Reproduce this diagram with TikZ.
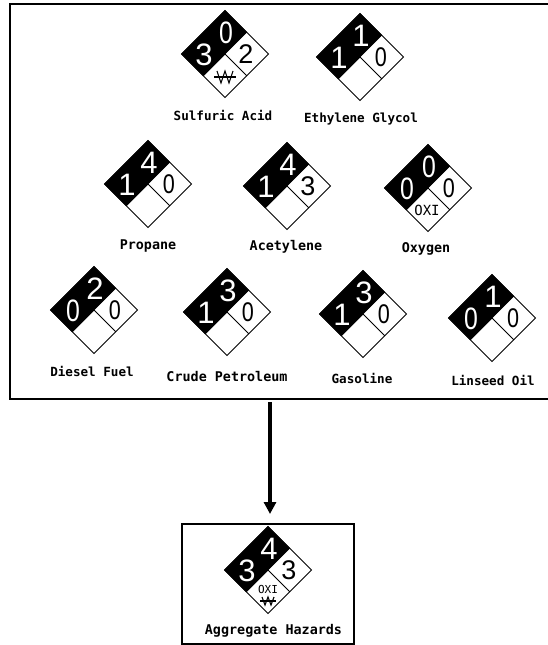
\documentclass[tikz,border=0pt]{standalone}
\usepackage{fontspec}
\usepackage{graphicx}
\usetikzlibrary{arrows.meta}
\setmainfont{Liberation Sans}
\newfontfamily\labelfont[Scale=1]{DejaVu Sans Mono Bold}
\newfontfamily\oxifont{DejaVu Sans Mono}
\tikzset{
  x=1pt,y=-1pt,
  sheet/.style={draw=black,line width=1.2pt,fill=white,rectangle,inner sep=0pt,outer sep=0pt},
  facecut/.style={draw=black,line width=0.8pt,line join=miter},
  blackface/.style={fill=black,draw=black,line width=0.6pt},
  darkdigit/.style={text=white,inner sep=0pt,font=\fontsize{31}{31}\selectfont},
  lightdigit/.style={text=black,inner sep=0pt,font=\fontsize{27}{27}\selectfont},
  hazlabel/.style={text=black,inner sep=0pt,font=\labelfont\fontsize{12.6}{13}\selectfont},
  hazwide/.style={text=black,inner sep=0pt,font=\labelfont\fontsize{13.4}{14}\selectfont},
  oxibig/.style={inner sep=0pt,font=\oxifont\fontsize{14}{14}\selectfont},
  oxismall/.style={inner sep=0pt,font=\oxifont\fontsize{11}{11}\selectfont},
  wline/.style={draw=black,line width=1.1pt,line join=miter},
  bigarrow/.style={draw=black,line width=4pt,-{Triangle[length=12pt,width=12pt]}}
}
\newcommand{\nar}[1]{\scalebox{.8}[1]{#1}}
% id, cx, cy, left digit, top digit, right digit
\newcommand{\hazard}[6]{%
  \fill[white] (#2-43.5,#3) -- (#2,#3-43.5) -- (#2+43.5,#3) -- (#2,#3+43.5) -- cycle;
  \path[blackface] (#2-43.5,#3) -- (#2,#3-43.5) -- (#2+21.75,#3-21.75) -- (#2,#3) -- (#2-21.75,#3+21.75) -- cycle;
  \draw[facecut] (#2-43.5,#3) -- (#2,#3-43.5) -- (#2+43.5,#3) -- (#2,#3+43.5) -- cycle;
  \draw[facecut] (#2,#3) -- (#2+21.75,#3+21.75);
  \draw[facecut] (#2,#3) -- (#2-21.75,#3+21.75);
  \node[darkdigit] (#1L) at (#2-21,#3+1) {#4};
  \node[darkdigit] (#1T) at (#2+1,#3-21) {#5};
  \node[lightdigit] (#1R) at (#2+21,#3) {#6};
}
% cx, cy, half width of bar, half width of W, half height
\newcommand{\nowater}[5]{%
  \draw[wline] (#1-#3,#2) -- (#1+#3,#2);
  \draw[wline] (#1-#4,#2-#5) -- (#1-#4/2,#2+#5) -- (#1,#2-#5) -- (#1+#4/2,#2+#5) -- (#1+#4,#2-#5);
}
\begin{document}
\begin{tikzpicture}
\useasboundingbox (0,0) rectangle (548,645);
\fill[white] (0,0) rectangle (548,645);
\node[sheet,minimum width=550pt,minimum height=395pt] (frame) at (285,201.5) {};
\node[sheet,minimum width=172pt,minimum height=120pt] (boxn) at (268,584) {};
\coordinate (arrowx) at (270,0);
\draw[bigarrow,shorten <=3pt,shorten >=10pt] (arrowx |- frame.south) -- (arrowx |- boxn.north);

\hazard{sa}{225}{54}{3}{\nar{0}}{2}
\nowater{225}{77}{11}{8}{6}
\node[hazlabel] (salabel) at (223,115) {Sulfuric Acid};

\hazard{eg}{360}{57}{1}{1}{\nar{0}}
\node[hazlabel] (eglabel) at (361,119) {Ethylene Glycol};

\hazard{pr}{148}{184}{1}{4}{\nar{0}}
\node[hazwide] (prlabel) at (148,246) {Propane};

\hazard{ac}{287}{186}{1}{4}{3}
\node[hazwide] (aclabel) at (286,247) {Acetylene};

\hazard{ox}{428}{188}{\nar{0}}{\nar{0}}{\nar{0}}
\node[oxibig] (oxi) at (427,210) {OXI};
\node[hazwide] (oxlabel) at (426,249) {Oxygen};

\hazard{df}{94}{310}{\nar{0}}{2}{\nar{0}}
\node[hazlabel] (dflabel) at (92,371) {Diesel Fuel};

\hazard{cp}{227}{312}{1}{3}{\nar{0}}
\node[hazwide] (cplabel) at (227,376) {Crude Petroleum};

\hazard{ga}{363}{314}{1}{3}{\nar{0}}
\node[hazlabel] (galabel) at (362,378) {Gasoline};

\hazard{li}{492}{318}{\nar{0}}{1}{\nar{0}}
\node[hazlabel] (lilabel) at (493,380) {Linseed Oil};

\hazard{ag}{268}{570}{3}{4}{3}
\node[oxismall] (agoxi) at (268,589) {OXI};
\nowater{268}{601}{8}{6}{4}
\node[hazwide] (aglabel) at (273.5,631) {Aggregate Hazards};
\end{tikzpicture}
\end{document}
